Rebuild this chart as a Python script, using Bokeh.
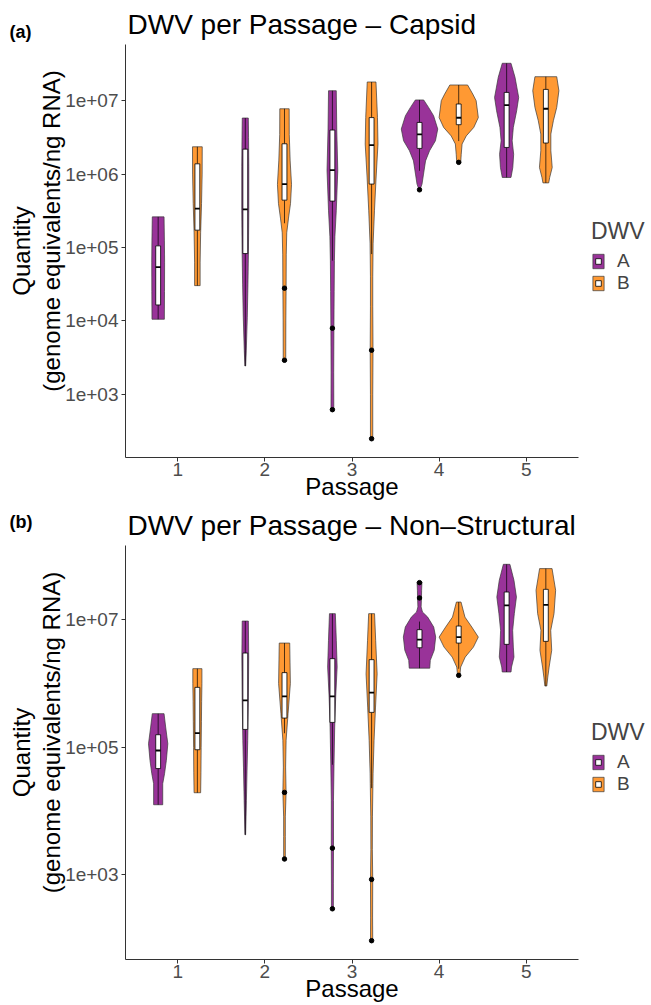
import math
from bokeh.plotting import figure
from bokeh.models import (Range1d, FixedTicker, CustomJSTickFormatter, Label,
                          Legend, LegendItem, Title)
from bokeh.layouts import column
from bokeh.embed import file_html
from bokeh.resources import INLINE

PASSAGES = [1, 2, 3, 4, 5]
GROUPS = ["A", "B"]
FILL = {"A": "#993399", "B": "#FF9933"}

# ---------------- Panel (a): Capsid  (values are log10 quantity) ----------------
CAP_A_LEVELS = [
    [4.022, 4.4, 4.8, 5.1, 5.417],
    [3.385, 3.6, 4.05, 4.5, 4.95, 5.5, 6.1, 6.5, 6.764],
    [2.79, 3.3, 3.9, 4.4, 4.82, 5.15, 5.5, 6.05, 6.6, 7.136],
    [5.786, 5.864, 6.0, 6.18, 6.318, 6.454, 6.614, 6.795, 6.909, 7.01],
    [5.954, 6.09, 6.27, 6.454, 6.636, 6.864, 7.045, 7.318, 7.51],
]
CAP_A_DENS = [
    [12.3, 12.6, 12.8, 12.4, 11.7],
    [0.8, 2, 4, 5.3, 6.3, 7, 7, 6.5, 6],
    [2.8, 2.6, 3.0, 3.5, 4, 5, 7.7, 10.7, 8.7, 7.7],
    [1, 5, 8, 12, 20, 31.7, 36.3, 28, 18, 8.3],
    [8.7, 12.3, 14, 11, 13.3, 20, 24, 16.7, 8.7],
]
CAP_B_LEVELS = [
    [4.48, 4.8, 5.2, 5.6, 6.0, 6.372],
    [3.463, 4.0, 4.445, 4.9, 5.2, 5.4, 5.6, 5.86, 6.18, 6.54, 6.89],
    [2.394, 3.0, 3.6, 4.2, 4.6, 5.05, 5.5, 5.96, 6.41, 6.77, 7.255],
    [6.16, 6.27, 6.41, 6.52, 6.636, 6.77, 7.0, 7.09, 7.214],
    [5.88, 5.954, 6.09, 6.318, 6.545, 6.727, 6.909, 7.136, 7.327],
]
CAP_B_DENS = [
    [5.5, 5.5, 6.5, 8.3, 9.5, 9.7],
    [2.5, 2.7, 3.2, 3.5, 4.5, 8, 12, 14, 11.3, 9.5, 9.3],
    [2.3, 2.3, 2.8, 2.3, 2.3, 3, 5.7, 9, 12.7, 11.7, 8.7],
    [4, 5, 6.7, 15, 30, 39, 34.7, 28, 17.7],
    [5.7, 7.7, 12.7, 10, 10, 15, 21.7, 26, 21.7],
]
CAP_A_Q1 = [4.217, 4.917, 5.632, 6.35, 6.363]
CAP_A_MED = [4.731, 5.52, 6.055, 6.54, 6.94]
CAP_A_Q3 = [5.022, 6.34, 6.6, 6.704, 7.113]
CAP_A_LO = [4.022, 3.385, 4.82, 6.045, 5.954]
CAP_A_HI = [5.417, 6.764, 7.136, 7.01, 7.51]
CAP_A_OUT = [[], [], [3.9, 2.79], [5.786], []]
CAP_B_Q1 = [5.236, 5.645, 5.864, 6.673, 6.423]
CAP_B_MED = [5.53, 5.864, 6.396, 6.768, 6.89]
CAP_B_Q3 = [6.14, 6.413, 6.77, 6.955, 7.154]
CAP_B_LO = [4.48, 5.33, 4.91, 6.45, 5.88]
CAP_B_HI = [6.372, 6.89, 7.255, 7.214, 7.327]
CAP_B_OUT = [[], [4.445, 3.463], [3.6, 2.394], [6.16], []]

# ---------------- Panel (b): Non-Structural ----------------
NS_A_LEVELS = [
    [4.1, 4.43, 4.586, 4.795, 5.056, 5.317, 5.527],
    [3.63, 4.17, 4.69, 5.108, 5.735, 6.414, 6.978],
    [2.47, 2.86, 3.42, 4.17, 4.74, 5.317, 5.787, 6.257, 6.676, 7.094],
    [6.24, 6.362, 6.52, 6.727, 6.884, 7.04, 7.12, 7.2, 7.34, 7.46, 7.59],
    [6.18, 6.257, 6.414, 6.57, 6.832, 7.094, 7.354, 7.616, 7.867],
]
NS_A_DENS = [
    [9.3, 9.3, 13, 16.7, 19.7, 15.3, 12],
    [0.7, 2.3, 3.7, 5, 6.3, 7, 6.3],
    [2, 2, 2.3, 2.2, 3.3, 4.7, 6.7, 9.7, 8, 6],
    [21, 22, 30, 33, 29, 16.7, 6, 3.3, 4, 4.3, 5],
    [9, 10, 15, 13.7, 12.3, 15.7, 20, 15, 6.7],
]
NS_B_LEVELS = [
    [4.288, 4.6, 5.0, 5.4, 5.715, 6.0, 6.232],
    [3.25, 3.6, 3.91, 4.293, 4.69, 5.11, 5.53, 6.0, 6.633],
    [1.97, 2.34, 2.93, 3.4, 3.91, 4.43, 4.586, 5.108, 5.63, 6.15, 6.676, 7.094],
    [6.127, 6.257, 6.414, 6.57, 6.727, 6.884, 7.04, 7.276],
    [5.96, 6.1, 6.257, 6.52, 6.832, 7.094, 7.46, 7.8],
]
NS_B_DENS = [
    [6.7, 7.3, 7.7, 8.3, 8.7, 9.3, 9.3],
    [1.7, 1.7, 1.7, 3.3, 2.3, 3.3, 7.3, 12, 10.7],
    [2.3, 2, 2.3, 1.5, 1.7, 2.7, 3, 5, 8, 11.3, 8.3, 6],
    [2.3, 4, 13.3, 30, 40, 26.7, 12.7, 4.7],
    [2, 4, 6.7, 12, 10, 16.7, 20, 12.7],
]
NS_A_Q1 = [4.667, 5.28, 5.39, 6.56, 6.613]
NS_A_MED = [4.95, 5.735, 5.798, 6.687, 7.224]
NS_A_Q3 = [5.197, 6.477, 6.389, 6.843, 7.433]
NS_A_LO = [4.1, 3.63, 4.727, 6.24, 6.18]
NS_A_HI = [5.527, 6.978, 7.094, 6.97, 7.867]
NS_A_OUT = [[], [], [3.42, 2.47], [7.34, 7.58], []]
NS_B_Q1 = [4.962, 5.458, 5.547, 6.633, 6.66]
NS_B_MED = [5.222, 5.798, 5.856, 6.727, 7.23]
NS_B_Q3 = [5.939, 6.17, 6.373, 6.9, 7.475]
NS_B_LO = [4.288, 5.22, 4.36, 6.23, 5.96]
NS_B_HI = [6.232, 6.633, 7.094, 7.276, 7.8]
NS_B_OUT = [[], [4.293, 3.25], [2.93, 1.97], [6.127], []]

Y_TICKS_A = [1e3, 1e4, 1e5, 1e6, 1e7]
Y_TICKS_B = [1e3, 1e5, 1e7]

Y_TITLE = "Quantity\n" + "\u00a0" * 6 + "(genome equivalents/ng RNA)"

FONT = "Liberation Sans"
DODGE = 0.225
BOX_HALF = 0.028


def make_panel(tag, title, groups, y_ticks, frame_h, tag_y, legend_vy):
    all_lv = [v for g in groups.values() for lv in g["levels"] for v in lv]
    lo, hi = min(all_lv), max(all_lv)
    pad = 0.05 * (hi - lo)
    p = figure(frame_width=453, frame_height=frame_h,
               x_range=Range1d(0.4, 5.6),
               y_range=Range1d(10 ** (lo - pad), 10 ** (hi + pad)),
               y_axis_type="log", output_backend="svg", toolbar_location=None,
               min_border_left=125, min_border_right=0,
               min_border_top=44, min_border_bottom=44,
               background_fill_color="white", border_fill_color="white")
    p.outline_line_color = None
    p.xgrid.visible = False
    p.ygrid.visible = False

    maxd = max(v for g in groups.values() for d in g["dens"] for v in d)
    scale = DODGE / maxd
    keys = {}
    for gname, g in groups.items():
        off = -DODGE if gname == "A" else DODGE
        centers = [x + off for x in PASSAGES]
        xs, ys = [], []
        for c, lv, dn in zip(centers, g["levels"], g["dens"]):
            right = [c + d * scale for d in dn]
            left = [c - d * scale for d in dn]
            xs.append(right + left[::-1])
            yv = [10 ** v for v in lv]
            ys.append(yv + yv[::-1])
        patch = p.patches(xs, ys, fill_color=FILL[gname], fill_alpha=1.0,
                          line_color="#3a3a3a", line_width=0.7)
        p.segment(x0=centers + centers,
                  y0=[10 ** v for v in g["q3"]] + [10 ** v for v in g["q1"]],
                  x1=centers + centers,
                  y1=[10 ** v for v in g["hi"]] + [10 ** v for v in g["lo"]],
                  line_color="black", line_width=0.7)
        p.quad(left=[c - BOX_HALF for c in centers], right=[c + BOX_HALF for c in centers],
               bottom=[10 ** v for v in g["q1"]], top=[10 ** v for v in g["q3"]],
               fill_color="white", line_color="black", line_width=0.8)
        p.segment(x0=[c - BOX_HALF for c in centers], x1=[c + BOX_HALF for c in centers],
                  y0=[10 ** v for v in g["med"]], y1=[10 ** v for v in g["med"]],
                  line_color="black", line_width=1.8)
        ox, oy = [], []
        for c, outs in zip(centers, g["out"]):
            for v in outs:
                ox.append(c)
                oy.append(10 ** v)
        p.scatter(ox, oy, size=4.5, marker="circle", fill_color="black", line_color="black")
        key = p.scatter(centers, [10 ** v for v in g["med"]], size=0, marker="square",
                        fill_color="white", line_color="black", line_width=0.8)
        keys[gname] = [patch, key]

    # axes
    p.xaxis.ticker = FixedTicker(ticks=PASSAGES)
    p.yaxis.ticker = FixedTicker(ticks=y_ticks)
    p.yaxis.formatter = CustomJSTickFormatter(code="""
        const e = Math.round(Math.log10(tick));
        const a = Math.abs(e);
        return '1e' + (e < 0 ? '-' : '+') + (a < 10 ? '0' : '') + a;
    """)
    for ax in (p.xaxis, p.yaxis):
        ax.axis_line_color = "#333333"
        ax.axis_line_width = 1
        ax.major_tick_line_color = "#333333"
        ax.major_tick_out = 4
        ax.major_tick_in = 0
        ax.minor_tick_line_color = None
        ax.major_label_text_font = FONT
        ax.major_label_text_font_size = "19px"
        ax.major_label_text_color = "#4D4D4D"
    p.xaxis.major_label_standoff = 1
    p.yaxis.major_label_standoff = 3
    p.yaxis.axis_label = Y_TITLE
    p.yaxis.axis_label_text_font = FONT
    p.yaxis.axis_label_text_font_size = "24px"
    p.yaxis.axis_label_text_font_style = "normal"
    p.yaxis.axis_label_text_color = "black"
    p.yaxis.axis_label_text_line_height = 1.1
    p.yaxis.axis_label_standoff = -3

    # title
    p.title.text = title
    p.title.align = "left"
    p.title.offset = 2
    p.title.standoff = 10
    p.title.text_font = FONT
    p.title.text_font_size = "28px"
    p.title.text_font_style = "normal"
    p.title.text_color = "black"

    # x axis title
    p.add_layout(Title(text="Passage", align="center", vertical_align="top", standoff=-12,
                       text_font=FONT, text_font_size="24px", text_font_style="normal",
                       text_color="black"), "below")

    legend = Legend(items=[LegendItem(label=gn, renderers=keys[gn]) for gn in GROUPS],
                    title="DWV", location=(13, legend_vy),
                    title_text_font=FONT, title_text_font_size="23px",
                    title_text_font_style="normal", title_standoff=5,
                    label_text_font=FONT, label_text_font_size="19px",
                    glyph_width=14, glyph_height=18, label_height=18, label_width=10,
                    label_standoff=12, spacing=0, padding=0, margin=0,
                    border_line_color=None, background_fill_alpha=0)
    p.add_layout(legend, "right")

    p.add_layout(Label(x=-1094, y=tag_y, x_units="screen", y_units="screen", text=tag,
                       text_font=FONT, text_font_size="18px", text_font_style="bold",
                       text_color="black", text_baseline="alphabetic", text_align="left"),
                 "right")
    return p


cap_groups = {
    "A": dict(levels=CAP_A_LEVELS, dens=CAP_A_DENS, q1=CAP_A_Q1, med=CAP_A_MED, q3=CAP_A_Q3,
              lo=CAP_A_LO, hi=CAP_A_HI, out=CAP_A_OUT),
    "B": dict(levels=CAP_B_LEVELS, dens=CAP_B_DENS, q1=CAP_B_Q1, med=CAP_B_MED, q3=CAP_B_Q3,
              lo=CAP_B_LO, hi=CAP_B_HI, out=CAP_B_OUT),
}
ns_groups = {
    "A": dict(levels=NS_A_LEVELS, dens=NS_A_DENS, q1=NS_A_Q1, med=NS_A_MED, q3=NS_A_Q3,
              lo=NS_A_LO, hi=NS_A_HI, out=NS_A_OUT),
    "B": dict(levels=NS_B_LEVELS, dens=NS_B_DENS, q1=NS_B_Q1, med=NS_B_MED, q3=NS_B_Q3,
              lo=NS_B_LO, hi=NS_B_HI, out=NS_B_OUT),
}

pa = make_panel("(a)", "DWV per Passage \u2013 Capsid", cap_groups, Y_TICKS_A,
                frame_h=413, tag_y=426, legend_vy=163)
pb = make_panel("(b)", "DWV per Passage \u2013 Non\u2013Structural", ns_groups, Y_TICKS_B,
                frame_h=414, tag_y=438, legend_vy=164)

layout = column(pa, pb)
open("out.html", "w").write(file_html(layout, INLINE))
